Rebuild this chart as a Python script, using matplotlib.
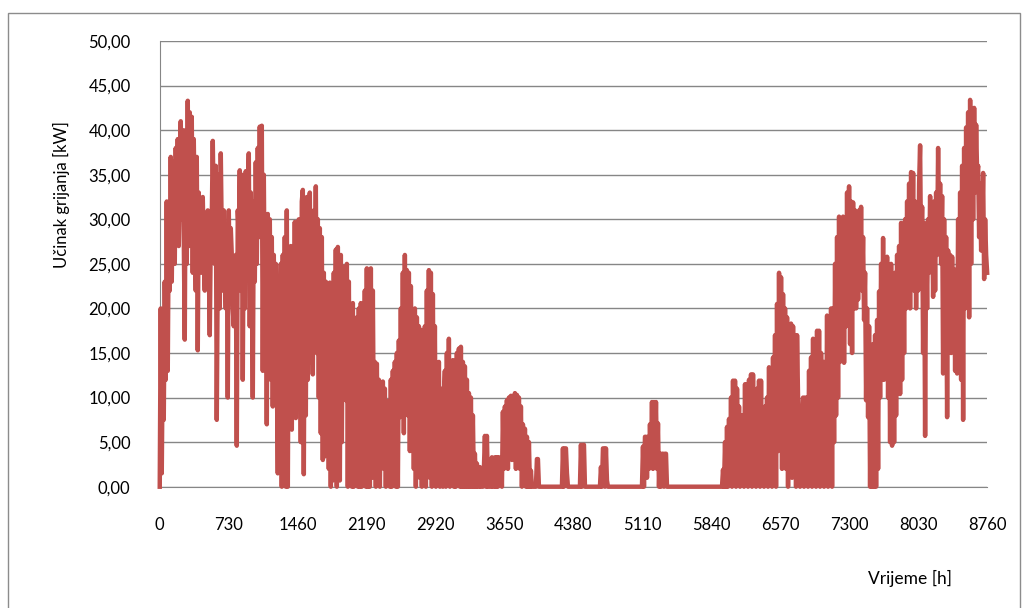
import numpy as np
import matplotlib
matplotlib.use("Agg")
import matplotlib.pyplot as plt
from matplotlib.patches import Rectangle

# ucinak grijanja [kW], ocitano u jednakim vremenskim koracima kroz godinu (0 - 8760 h)
kw = [
    0, 20, 1.5, 15, 7.5, 23, 12, 32, 13, 30, 22, 37, 23, 33, 36.5, 25, 38, 28, 39, 27,
    35, 41, 30, 40, 28, 16.5, 40, 25, 43.3, 27, 42, 30, 41.5, 24, 39, 30, 22, 37, 15.3, 33,
    27, 31, 24, 32.5, 26, 22, 30, 23, 31, 25, 17, 28, 30, 38.8, 30, 25, 36, 7.5, 25, 35,
    20, 37.4, 28, 22, 31, 24, 20, 28, 10, 31, 22, 29, 26, 20, 18, 24, 26, 4.6, 31, 28,
    35.5, 22, 35, 12, 33, 20, 35.4, 25, 32, 37.4, 18, 33, 24, 10, 32, 23, 36.4, 25, 38, 28,
    40.4, 30, 40.5, 13, 35, 20, 30, 7, 30.6, 14, 30, 12, 28, 9, 26, 13, 25, 12.6, 1.5, 22,
    10, 25, 0, 26, 5, 28, 0, 31, 0, 24, 8, 27, 6.4, 26, 10, 29.7, 7.7, 27, 12, 30,
    20, 5, 32, 33.3, 1.4, 30, 8, 32.5, 12, 28, 33, 14, 30, 12.6, 31, 20, 33.7, 15, 30, 10,
    29, 6, 28, 3, 24, 3.4, 23, 4.7, 20, 2, 22.9, 0, 22, 0.7, 24, 3, 26.6, 0, 26.9, 10,
    0.7, 26, 5, 24.7, 12, 22, 9.7, 25, 0, 23, 8, 20, 0, 20.6, 0, 18, 5, 19, 0, 20,
    0, 20.6, 0, 19, 2, 22, 0, 24.5, 0, 24, 0, 24.5, 1, 22, 5, 14, 0, 13.8, 2, 12,
    0, 10, 3, 11.8, 2, 11, 0, 9.6, 1, 9.5, 0, 12, 0, 13, 2, 14, 0, 15, 0, 16.4,
    7.8, 20, 8, 24, 6, 26, 9, 24.3, 8, 24, 4, 22.5, 10, 19.8, 2, 20, 0, 19, 3, 18,
    1, 17.6, 0, 17, 2, 18, 0, 22, 3, 24.3, 1, 24, 0, 21.6, 2, 18, 0, 13, 1, 14,
    0, 11, 9, 0, 10, 13, 0, 15, 2, 16.6, 0, 14, 1, 14.2, 0, 14, 0, 15, 2, 15.5,
    0, 15.7, 0, 14, 0, 13.5, 0, 12, 0, 10.5, 0, 10, 0, 8, 0, 3.7, 0, 2.6, 0, 0,
    2.2, 0, 0, 0, 2, 5.7, 0, 5.7, 0, 0, 0, 0, 3.3, 0, 0, 3.3, 0, 3.3, 0, 3.3,
    1, 3, 0, 8.4, 2, 9, 3, 9.7, 2, 10, 4, 10.2, 3, 10, 5, 10.5, 2, 10.3, 4, 10,
    2, 9, 0, 7, 1, 6.5, 0, 5.6, 0, 5, 0, 1.8, 0, 0, 0, 0, 0, 3.1, 3.1, 0,
    0, 0, 0, 0, 0, 0, 0, 0, 0, 0, 0, 0, 0, 0, 0, 0, 0, 0, 0, 0,
    0, 0, 0, 4.3, 0, 4.3, 4.3, 1.5, 0, 0, 0, 0, 0, 0, 0, 0, 0, 0, 0, 0,
    0, 4.7, 0, 4.7, 4.7, 0, 0, 0, 0, 0, 0, 0, 0, 0, 0, 0, 0, 0, 0, 0,
    0, 2.2, 0, 4.3, 4.3, 0, 4.3, 0.7, 0, 0, 0, 0, 0, 0, 0, 0, 0, 0, 0, 0,
    0, 0, 0, 0, 0, 0, 0, 0, 0, 0, 0, 0, 0, 0, 0, 0, 0, 0, 0, 0,
    0, 0, 0, 4.5, 0, 5.6, 5.6, 1, 5.6, 2, 7, 3, 9.5, 2, 9.5, 4, 9.5, 2, 7.1, 0,
    3.7, 0, 3.7, 3.7, 0, 3.7, 3.7, 0, 0, 0, 0, 0, 0, 0, 0, 0, 0, 0, 0, 0,
    0, 0, 0, 0, 0, 0, 0, 0, 0, 0, 0, 0, 0, 0, 0, 0, 0, 0, 0, 0,
    0, 0, 0, 0, 0, 0, 0, 0, 0, 0, 0, 0, 0, 0, 0, 0, 0, 0, 0, 0,
    0, 0, 0, 1.9, 0, 5, 0, 6.7, 0, 7.6, 1, 10, 0, 11.9, 2, 11.9, 0, 11, 3, 9,
    0, 8, 2, 8, 0, 11.5, 1, 11.5, 0, 12, 2, 12.6, 0, 12.6, 1, 10.8, 0, 11, 2, 11.9,
    0, 11.9, 1, 7.5, 0, 9, 2, 10, 0, 13.4, 2, 12, 0, 14.5, 3, 17, 0, 20.5, 4, 24,
    6, 23.5, 2, 21.6, 5, 20, 2, 19, 0, 18, 3, 18.3, 1, 18, 3, 17, 0, 17, 10, 8,
    0, 9, 1, 10, 0, 10, 2, 10, 0, 13, 2, 14.5, 0, 16.6, 3, 16, 0, 17.5, 2, 17.5,
    0, 15, 3, 14, 0, 14, 2, 19.2, 0, 19, 1, 20, 0, 20, 5, 25, 8, 28, 10, 30.3,
    14, 30, 15, 30.3, 13.9, 28, 18, 33, 20, 33.7, 16, 32, 15, 31.9, 20, 31, 20, 30, 21, 31,
    23, 31.4, 22, 28, 18.7, 24, 9.7, 20, 7.8, 18, 0, 15, 0, 16, 0, 17, 0, 18.7, 2, 21.9,
    10, 25, 12, 27.9, 12, 24, 14, 25.8, 10, 24, 5, 25, 4.6, 22, 5, 24, 8, 26, 14, 27,
    10.4, 29.6, 12, 28, 15, 30, 20, 32, 22, 34, 20, 35.3, 25, 35.2, 22, 32, 20, 31.9, 22, 34,
    38.3, 25, 31.4, 15, 29.6, 5.7, 28, 20, 30, 24, 32.6, 25, 31, 21.3, 32, 22, 33, 26, 38, 27,
    34, 25, 32.6, 12.7, 30, 15, 28, 7.8, 26.5, 18, 26, 15, 25.8, 17, 24.4, 13, 24, 12.7, 30, 15,
    33, 12, 36, 7.5, 38, 20, 40.3, 25, 42, 19, 43.4, 25, 42, 30, 42.5, 33, 40.6, 35, 36, 28,
    34, 26.5, 29, 35.2, 23.3, 30, 26, 24,
]

x_ticks = [0, 730, 1460, 2190, 2920, 3650, 4380, 5110, 5840, 6570, 7300, 8030, 8760]
y_ticks = [0, 5, 10, 15, 20, 25, 30, 35, 40, 45, 50]

plt.rcParams['font.family'] = ['Lato', 'DejaVu Sans']

fig = plt.figure(figsize=(10.24, 6.08), dpi=100)
fig.patch.set_facecolor('white')

# okvir grafikona (Excel)
fig.patches.append(Rectangle((0.0078, -0.05), 0.988, 1.028, transform=fig.transFigure,
                             fill=False, edgecolor='#8c8c8c', linewidth=1.0))

ax = fig.add_axes([0.156, 0.1995, 0.808, 0.733])

hours = np.linspace(0, 8760, len(kw))
ax.plot(hours, kw, color='#C0504D', linewidth=3.2, clip_on=False, zorder=3)

ax.set_xlim(0, 8760)
ax.set_ylim(0, 50)
ax.set_xticks(x_ticks)
ax.set_yticks(y_ticks)
ax.set_yticklabels([f"{v:.2f}".replace('.', ',') for v in y_ticks])
ax.tick_params(axis='both', length=0, labelsize=12, colors='black')
ax.tick_params(axis='x', pad=22)
ax.tick_params(axis='y', pad=21)

ax.grid(axis='y', color='#868686', linewidth=1.0)
ax.set_axisbelow(True)
for side in ['top', 'right']:
    ax.spines[side].set_visible(False)
ax.spines['left'].set_color('#868686')
ax.spines['bottom'].set_color('#868686')

fig.text(0.0605, 0.68, 'Učinak grijanja [kW]', rotation=90, ha='center', va='center',
         fontsize=12)
fig.text(0.889, 0.049, 'Vrijeme [h]', ha='center', va='center', fontsize=12.5)

fig.savefig('out.png', dpi=100)
